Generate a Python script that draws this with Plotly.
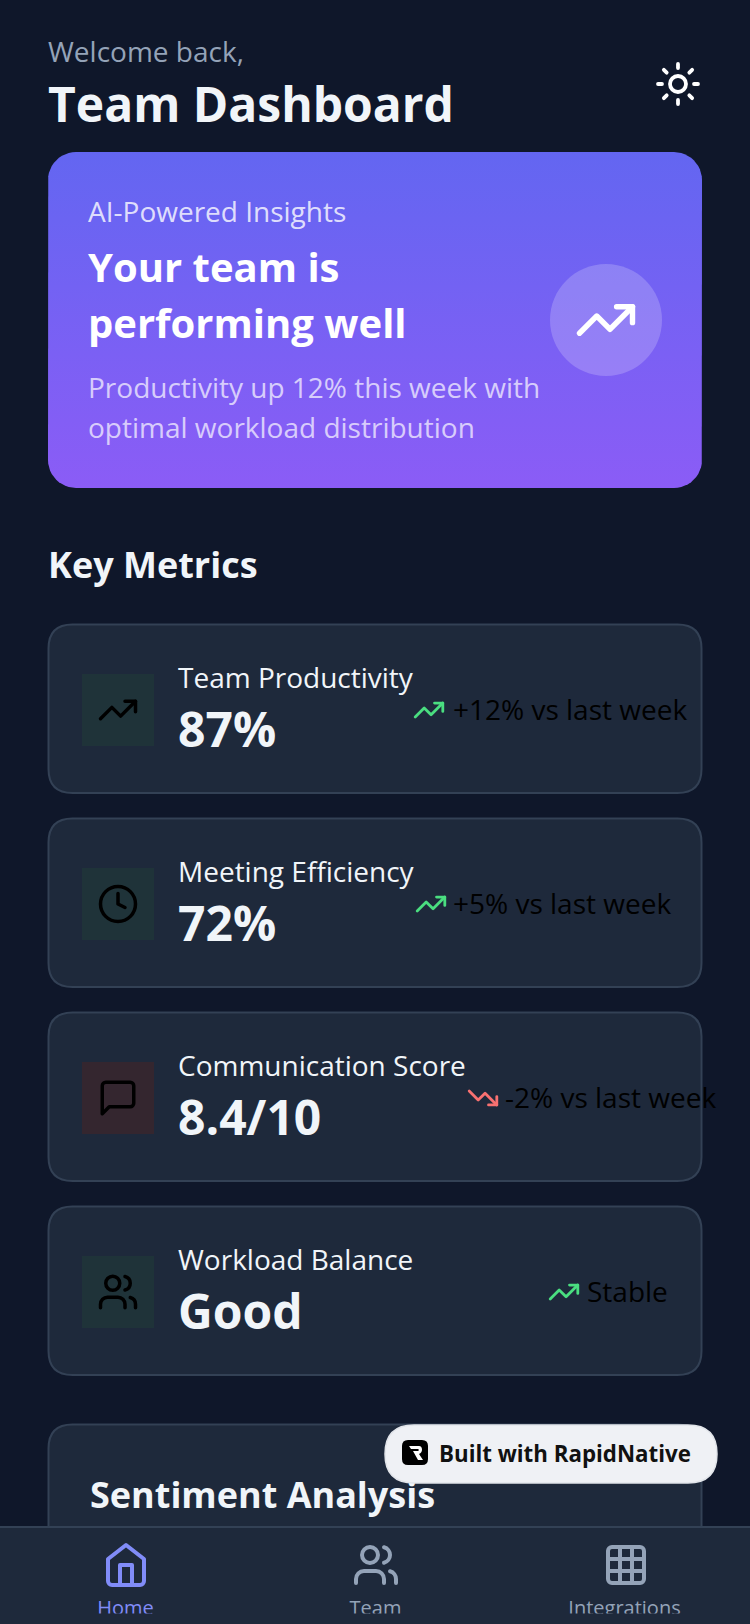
import math
import re
import plotly.graph_objects as go

W, H = 750, 1624
BG = "#0f172a"; CARD = "#1e293b"; BORDER = "#334155"
TITLE = "#f1f5f9"; MUTED = "#94a3b8"; GREEN = "#4ade80"; RED = "#f87171"; ACCENT = "#818cf8"
FONT = "Open Sans"

metric_labels = ["Team Productivity", "Meeting Efficiency", "Communication Score", "Workload Balance"]
metric_values = ["87%", "72%", "8.4/10", "Good"]
metric_trends = ["+12% vs last week", "+5% vs last week", "-2% vs last week", "Stable"]
metric_up = [True, True, False, True]
metric_icons = ["trend", "clock", "message", "users"]
nav_labels = ["Home", "Team", "Integrations"]
nav_colors = [ACCENT, MUTED, MUTED]
nav_icons = ["home", "users", "grid"]

card_tops = [624.5, 818.5, 1012.5, 1206.5]
trend_icon_x = [429, 431, 483, 564]
trend_text_x = [453, 453, 505, 587]
nav_x = [126, 376, 626]
nav_text_x = [125.5, 375.5, 624.5]


def circ(cx, cy, r):
    k = 0.5523 * r
    return (f"M{cx+r} {cy} C{cx+r} {cy+k} {cx+k} {cy+r} {cx} {cy+r} "
            f"C{cx-k} {cy+r} {cx-r} {cy+k} {cx-r} {cy} "
            f"C{cx-r} {cy-k} {cx-k} {cy-r} {cx} {cy-r} "
            f"C{cx+k} {cy-r} {cx+r} {cy-k} {cx+r} {cy} Z")


ICONS = {
    "trend": ["M22 7 L13.5 15.5 L8.5 10.5 L2 17", "M16 7 H22 V13"],
    "down": ["M22 17 L13.5 8.5 L8.5 13.5 L2 7", "M16 17 H22 V11"],
    "clock": [circ(12, 12, 10), "M12 6 V12 L16 14"],
    "message": ["M21 15 C21 16.1 20.1 17 19 17 H7 L3 21 V5 C3 3.9 3.9 3 5 3 H19 C20.1 3 21 3.9 21 5 Z"],
    "users": ["M16 21 V19 C16 16.8 14.2 15 12 15 H6 C3.8 15 2 16.8 2 19 V21", circ(9, 7, 4),
              "M22 21 V19 C22 17.2 20.8 15.6 19 15.13", "M16 3.13 C17.8 3.6 19 5.2 19 7 C19 8.8 17.8 10.4 16 10.88"],
    "home": ["M3 9 L12 2 L21 9 V20 C21 21.1 20.1 22 19 22 H5 C3.9 22 3 21.1 3 20 Z", "M9 22 V12 H15 V22"],
    "grid": ["M5 3 H19 C20.1 3 21 3.9 21 5 V19 C21 20.1 20.1 21 19 21 H5 C3.9 21 3 20.1 3 19 V5 C3 3.9 3.9 3 5 3 Z",
             "M3 9 H21", "M3 15 H21", "M9 3 V21", "M15 3 V21"],
    "sun": [circ(12, 12, 4), "M12 2 V4", "M12 20 V22", "M4.93 4.93 L6.34 6.34", "M17.66 17.66 L19.07 19.07",
            "M2 12 H4", "M20 12 H22", "M6.34 17.66 L4.93 19.07", "M19.07 4.93 L17.66 6.34"],
}

shapes = []
annotations = []


def rrect(x0, y0, x1, y1, r, fill, line=None, lw=0, layer="below"):
    p = (f"M{x0+r} {y0} H{x1-r} Q{x1} {y0} {x1} {y0+r} V{y1-r} Q{x1} {y1} {x1-r} {y1} "
         f"H{x0+r} Q{x0} {y1} {x0} {y1-r} V{y0+r} Q{x0} {y0} {x0+r} {y0} Z")
    shapes.append(dict(type="path", path=p, fillcolor=fill, layer=layer, xref="x", yref="y",
                       line=dict(color=line or fill, width=lw)))


def icon(name, cx, cy, scale, color, lw, layer="above"):
    for d in ICONS[name]:
        toks = re.findall(r"[MLHVCQZ]|-?[\d.]+", d)
        out, cmd, i = [], None, 0
        for t in toks:
            if t.isalpha():
                cmd = t
                out.append(t)
                i = 0
            else:
                v = float(t)
                if cmd == "H":
                    v = cx + (v - 12) * scale
                elif cmd == "V":
                    v = cy + (v - 12) * scale
                else:
                    v = (cx if i % 2 == 0 else cy) + (v - 12) * scale
                    i += 1
                out.append(f"{v:.2f}")
        shapes.append(dict(type="path", path=" ".join(out), xref="x", yref="y", layer=layer,
                           fillcolor="rgba(0,0,0,0)", line=dict(color=color, width=lw)))


def text(s, x, y, size, color, weight=400, anchor="left"):
    annotations.append(dict(text=s, x=x, y=y, xref="x", yref="y", xanchor=anchor, yanchor="middle",
                            showarrow=False, borderpad=0, borderwidth=0, align="left",
                            font=dict(family=FONT, size=size, color=color, weight=weight)))


# header
text("Welcome back,", 48, 51, 28, MUTED)
text("Team Dashboard", 48, 103.5, 48, TITLE, 700)
icon("sun", 678, 84, 2.0, "#ffffff", 3.8)

# hero card
hero_x0, hero_y0, hero_x1, hero_y1, hero_r = 48, 152, 702, 488, 28
hx, hy = [], []
for cx, cy, a0 in [(hero_x1 - hero_r, hero_y0 + hero_r, -90), (hero_x1 - hero_r, hero_y1 - hero_r, 0),
                   (hero_x0 + hero_r, hero_y1 - hero_r, 90), (hero_x0 + hero_r, hero_y0 + hero_r, 180)]:
    for k in range(13):
        a = math.radians(a0 + 7.5 * k)
        hx.append(cx + hero_r * math.cos(a))
        hy.append(cy + hero_r * math.sin(a))
hx.append(hx[0]); hy.append(hy[0])
hero = go.Scatter(x=hx, y=hy, mode="lines", fill="toself", line=dict(width=0), hoverinfo="skip", showlegend=False,
                  fillgradient=dict(type="vertical", colorscale=[[0, "#8b5cf6"], [1, "#6366f1"]]))

text("AI-Powered Insights", 88, 211, 28, "rgba(255,255,255,0.8)")
text("Your team is", 88, 266, 40, "#ffffff", 700)
text("performing well", 88, 322, 40, "#ffffff", 700)
text("Productivity up 12% this week with", 88, 387, 28, "rgba(255,255,255,0.7)")
text("optimal workload distribution", 88, 427, 28, "rgba(255,255,255,0.7)")
shapes.append(dict(type="path", path=circ(606, 320, 56), fillcolor="rgba(255,255,255,0.2)",
                   line=dict(width=0), xref="x", yref="y", layer="above"))
icon("trend", 606, 320, 2.65, "#ffffff", 5.4)

text("Key Metrics", 48, 564, 36, TITLE, 700)

# metric cards
for i, top in enumerate(card_tops):
    rrect(48.5, top, 701.5, top + 168.5, 24, CARD, BORDER, 2)
    up = metric_up[i]
    tint = "#1f3339" if up else "#34262f"
    shapes.append(dict(type="rect", x0=82, x1=154, y0=top + 49.5, y1=top + 121.5, xref="x", yref="y",
                       fillcolor=tint, line=dict(width=0), layer="below"))
    icon(metric_icons[i], 118, top + 85.5, 1.75, "#000000", 3.5)
    icon("trend" if up else "down", trend_icon_x[i], top + 85.5, 1.38, GREEN if up else RED, 2.8)
    text(metric_labels[i], 178, top + 52.5, 28, TITLE)
    text(metric_values[i], 178, top + 104, 48, TITLE, 700)
    text(metric_trends[i], trend_text_x[i], top + 84.5, 28, "#000000")

# sentiment card, cut by the tab bar
rrect(48.5, 1424.5, 701.5, 1640, 24, CARD, BORDER, 2)
sentiment = go.Scatter(x=[90], y=[1499], mode="text", text=["Sentiment Analysis"], textposition="middle right",
                       textfont=dict(family=FONT, size=36, color=TITLE, weight=700), hoverinfo="skip", showlegend=False)

# tab bar
shapes.append(dict(type="rect", x0=-5, x1=W + 5, y0=1527, y1=H + 5, xref="x", yref="y", fillcolor=CARD,
                   line=dict(color=BORDER, width=2), layer="below"))
for x, ic, col in zip(nav_x, nav_icons, nav_colors):
    icon(ic, x, 1565, 2.0, col, 4)
nav_trace = go.Scatter(x=nav_text_x, y=[1610] * 3, xaxis="x2", yaxis="y2", mode="text", text=nav_labels,
                       textposition="middle center", cliponaxis=True, hoverinfo="skip", showlegend=False,
                       textfont=dict(family=FONT, size=20, color=nav_colors))

# badge
rrect(385, 1425, 717, 1483, 29, "#eff1f5", "#e2e5ea", 1.5, layer="above")
rrect(402, 1440, 428, 1465, 6, "#000000", layer="above")
shapes.append(dict(type="path", xref="x", yref="y", layer="above", fillcolor="#ffffff", line=dict(width=0),
                   path="M409 1446 H419 C423 1446 423 1453 419 1454 L423 1460 H418 L413 1451 H418 C419 1451 419 1449 418 1449 H411 Z"))
text("Built with RapidNative", 439, 1453.5, 22.3, "#111111", 700)

fig = go.Figure([hero, sentiment, nav_trace])
fig.update_layout(
    width=W, height=H, margin=dict(l=0, r=0, t=0, b=0), paper_bgcolor=BG, plot_bgcolor="rgba(0,0,0,0)",
    showlegend=False, shapes=shapes, annotations=annotations, hovermode=False,
    xaxis=dict(range=[0, W], visible=False, fixedrange=True, domain=[0, 1]),
    yaxis=dict(range=[H, 0], visible=False, fixedrange=True, domain=[0, 1]),
    xaxis2=dict(range=[0, W], visible=False, fixedrange=True, domain=[0, 1], anchor="y2"),
    yaxis2=dict(range=[1613.5, 1528], visible=False, fixedrange=True, anchor="x2",
                domain=[(H - 1613.5) / H, (H - 1528) / H]),
)
post = """
document.body.style.margin='0';
document.body.style.overflow='hidden';
document.querySelectorAll('.shapelayer path').forEach(function(p){
  p.style.strokeLinecap='round'; p.style.strokeLinejoin='round';
});
"""
fig.write_html("out.html", config={"displayModeBar": False, "responsive": False}, post_script=post)
